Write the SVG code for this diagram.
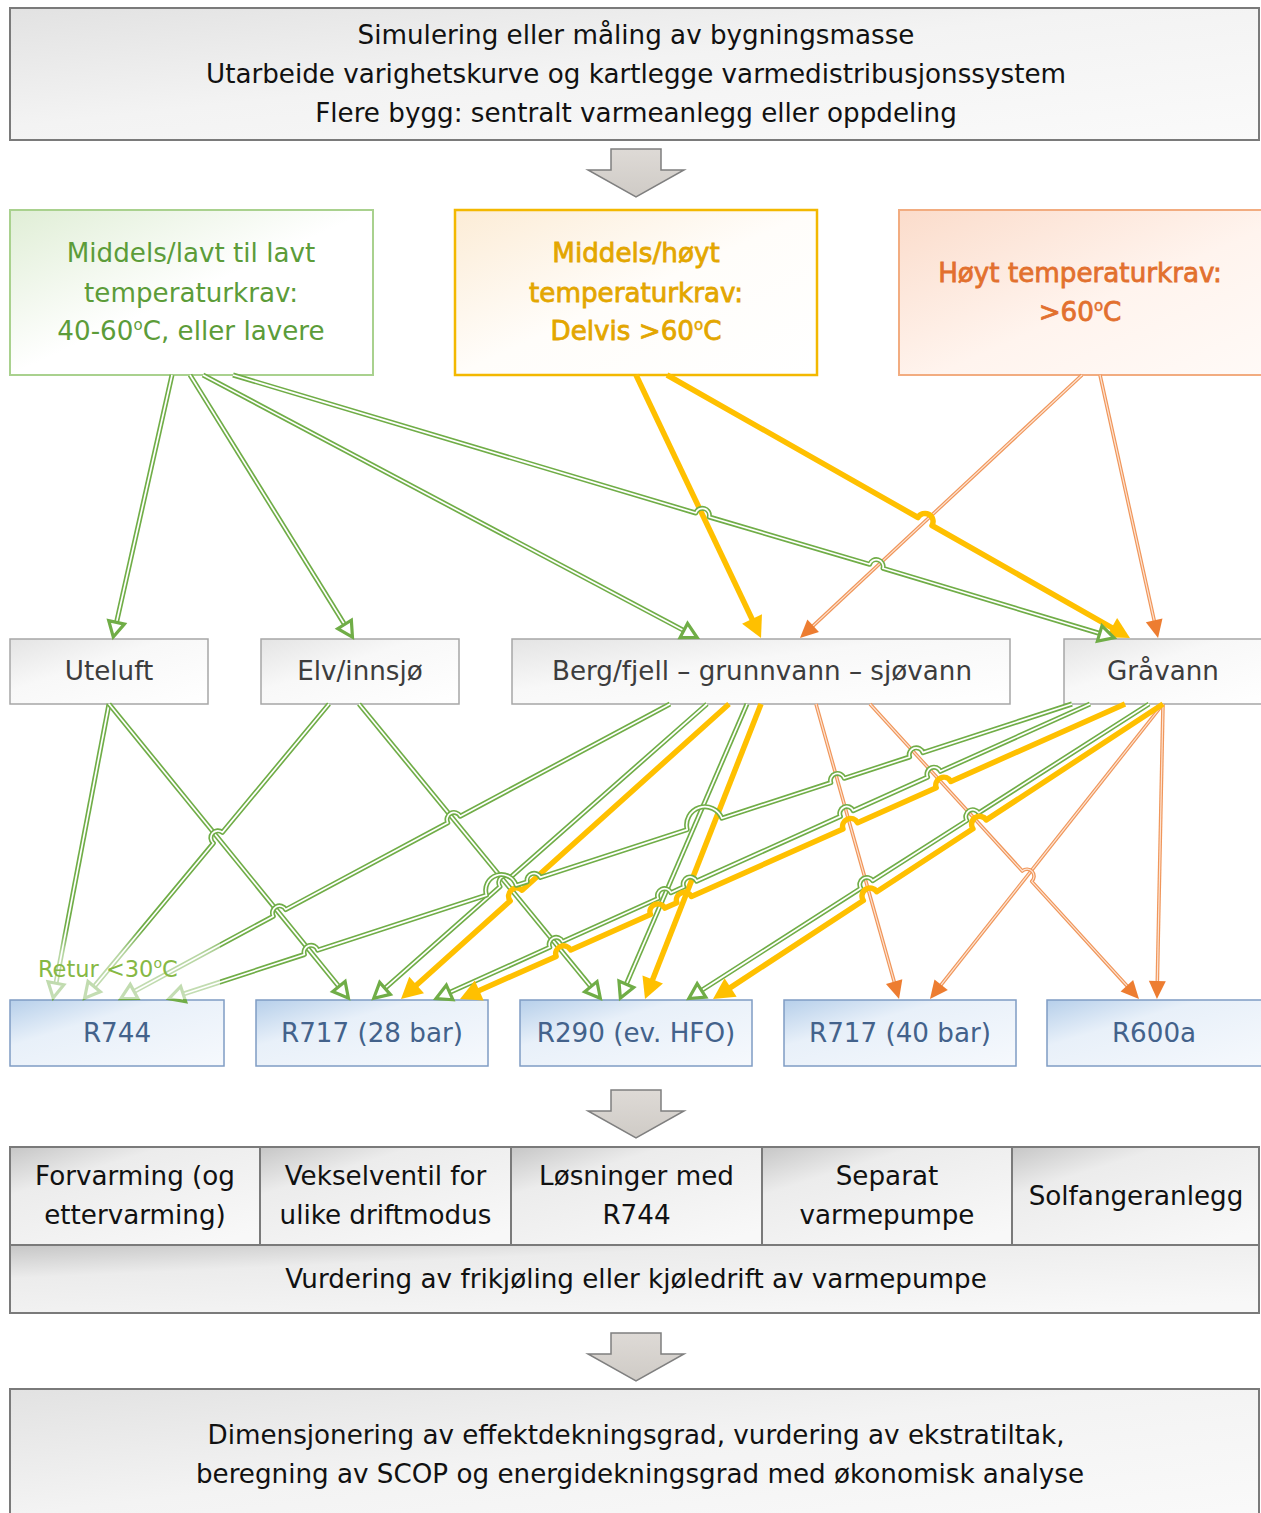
<svg xmlns="http://www.w3.org/2000/svg" width="1261" height="1513" viewBox="0 0 1261 1513">
<defs>
  <linearGradient id="fGray" x1="0" y1="0" x2="1" y2="1">
    <stop offset="0" stop-color="#e2e2e2"/><stop offset="0.45" stop-color="#f3f3f3"/><stop offset="1" stop-color="#fafafa"/>
  </linearGradient>
  <linearGradient id="fCell" x1="0" y1="0" x2="0.8" y2="1">
    <stop offset="0" stop-color="#c6c6c6"/><stop offset="0.3" stop-color="#ececec"/><stop offset="1" stop-color="#f8f8f8"/>
  </linearGradient>
  <linearGradient id="fGreen" x1="0" y1="0" x2="1" y2="1">
    <stop offset="0" stop-color="#e0eed6"/><stop offset="0.5" stop-color="#ffffff"/><stop offset="1" stop-color="#ffffff"/>
  </linearGradient>
  <linearGradient id="fYellow" x1="0" y1="0" x2="1" y2="1">
    <stop offset="0" stop-color="#fcecd6"/><stop offset="0.5" stop-color="#fffdfa"/><stop offset="1" stop-color="#ffffff"/>
  </linearGradient>
  <linearGradient id="fOrange" x1="0" y1="0" x2="1" y2="1">
    <stop offset="0" stop-color="#fbdccb"/><stop offset="0.55" stop-color="#fff4ee"/><stop offset="1" stop-color="#fffaf7"/>
  </linearGradient>
  <linearGradient id="fSrc" x1="0" y1="0" x2="1" y2="1">
    <stop offset="0" stop-color="#e4e4e4"/><stop offset="0.4" stop-color="#f8f8f8"/><stop offset="1" stop-color="#ffffff"/>
  </linearGradient>
  <linearGradient id="fRef" x1="0" y1="0" x2="1" y2="1">
    <stop offset="0" stop-color="#b6cfea"/><stop offset="0.35" stop-color="#e8f0f9"/><stop offset="1" stop-color="#f6f9fd"/>
  </linearGradient>
  <linearGradient id="fBlk" x1="0" y1="0" x2="0" y2="1">
    <stop offset="0" stop-color="#dedad6"/><stop offset="1" stop-color="#cfcbc6"/>
  </linearGradient>
  <linearGradient id="fFade" x1="0" y1="0" x2="0" y2="1">
    <stop offset="0" stop-color="#ffffff" stop-opacity="0"/><stop offset="0.35" stop-color="#ffffff" stop-opacity="0.5"/><stop offset="1" stop-color="#ffffff" stop-opacity="0.6"/>
  </linearGradient>

  <marker id="ag" markerUnits="userSpaceOnUse" markerWidth="24" markerHeight="24" refX="2" orient="auto" overflow="visible">
    <path d="M0,-8 L15,0 L0,8 Z" fill="#ffffff" stroke="#70ad47" stroke-width="3.2"/>
  </marker>
  <marker id="ay" markerUnits="userSpaceOnUse" markerWidth="24" markerHeight="24" refX="3" orient="auto" overflow="visible">
    <path d="M0,-11 L21,0 L0,11 Z" fill="#ffc000"/>
  </marker>
  <marker id="ao" markerUnits="userSpaceOnUse" markerWidth="24" markerHeight="24" refX="2" orient="auto" overflow="visible">
    <path d="M0,-8.5 L18,0 L0,8.5 Z" fill="#ed7d31"/>
  </marker>

  <!-- block arrow between stages -->
  <path id="blk" d="M-25,0 H25 V21 H48 L0,48 L-48,21 H-25 Z"/>

  <!-- requirement -> source -->
  <path id="c1" d="M172,375 L116.1,624.3"/>
  <path id="c2" d="M190,375 L345.6,626.1"/>
  <path id="c3" d="M203,375 L685.6,631.4"/>
  <path id="c4" d="M233,375 L695.8,513.0 A7,7 0 0 1 709.2,517.0 L869.6,564.3 A7,7 0 0 1 883.0,568.3 L1101.6,634.0"/>
  <path id="c5" d="M636,375 L753.3,621.7"/>
  <path id="c6" d="M667,375 L918.0,517.5 A8,8 0 0 1 932.0,525.5 L1114.3,629.1"/>
  <path id="c7" d="M1082,375 L811.7,627.1"/>
  <path id="c8" d="M1100,375 L1154.6,622.4"/>

  <!-- source -> refrigerant -->
  <path id="d1" d="M109,704 L55.6,985.2"/>
  <path id="d2" d="M109,704 L340.2,988.1"/>
  <path id="d3" d="M359,704 L592.1,988.2"/>
  <path id="d4" d="M747,704 L625.5,986.1"/>
  <path id="d5" d="M761,704 L651.6,982.2"/>
  <path id="d6" d="M816,704 L894.7,983.6"/>
  <path id="d7" d="M1163,704 L939.9,986.4"/>
  <path id="d8" d="M1163,704 L1157.3,983"/>
  <path id="d9" d="M329,704 L222.4,832.4 A7,7 0 0 0 213.4,843.2 L92.9,988.2"/>
  <path id="d10" d="M670,704 L460.2,816.2 A7,7 0 0 0 447.8,822.8 L285.7,909.6 A7,7 0 0 0 273.3,916.2 L132.3,992.4"/>
  <path id="d11" d="M707,704 L510.4,877.4 A7,7 0 0 0 500.0,886.6 L383.5,989.7"/>
  <path id="d12" d="M729,704 L522.0,890.2 A8,8 0 0 0 510.2,900.9 L414.4,987.0"/>
  <path id="d13" d="M870,704 L1022.3,871.0 A7,7 0 0 1 1031.7,881.4 L1128.2,987.2"/>
  <path id="d14" d="M1072,704 L922.9,752.6 A7,7 0 0 0 909.6,757.0 L844.2,778.3 A7,7 0 0 0 830.8,782.7 L721.9,818.2 A18.3,18.3 0 0 0 687.2,829.6 L540.4,877.4 A7,7 0 0 0 527.2,881.8 L516.2,885.3 A15.6,15.6 0 0 0 486.5,895.1 L317.7,950.1 A7,7 0 0 0 304.4,954.5 L181.3,994.7"/>
  <path id="d15" d="M1090,704 L940.4,771.3 A7,7 0 0 0 927.6,777.1 L853.2,810.6 A7,7 0 0 0 840.4,816.4 L696.6,881.1 A7,7 0 0 0 683.8,886.9 L670.9,892.7 A7,7 0 0 0 658.1,898.5 L562.6,941.5 A7,7 0 0 0 549.8,947.3 L447.8,993.3"/>
  <path id="d16" d="M1125,704 L950.8,781.4 A8,8 0 0 0 936.2,787.8 L857.6,822.7 A8,8 0 0 0 843.0,829.1 L691.4,896.4 A8,8 0 0 0 676.8,902.8 L665.0,908.1 A8,8 0 0 0 650.4,914.5 L570.7,950.0 A8,8 0 0 0 556.1,956.4 L476.5,991.7"/>
  <path id="d17" d="M1149,704 L978.7,812.9 A7,7 0 0 0 966.9,820.5 L872.7,880.7 A7,7 0 0 0 860.9,888.3 L699.8,991.5"/>
  <path id="d18" d="M1163,704 L986.3,819.9 A8,8 0 0 0 972.9,828.7 L876.7,891.7 A8,8 0 0 0 863.3,900.5 L728.1,989.1"/>
</defs>

<style>
  text { font-family: "DejaVu Sans", "Liberation Sans", sans-serif; font-size: 26.2px; text-anchor: middle; }
  .t-dark { fill: #111111; }
  .t-src { fill: #3d3d3d; }
  .t-ref { fill: #43628b; }
  .t-green { fill: #5c9c39; }
  .t-yellow { fill: #e3a600; stroke: #e3a600; stroke-width: 0.8; }
  .t-orange { fill: #e2702e; stroke: #e2702e; stroke-width: 0.8; }
  .sup { font-size: 15px; stroke-width: 0.5; }
  .box-gray { fill: url(#fGray); stroke: #7a7a7a; stroke-width: 2; }
  .box-cell { fill: url(#fCell); stroke: #7a7a7a; stroke-width: 2; }
  .box-src { fill: url(#fSrc); stroke: #a6a6a6; stroke-width: 1.5; }
  .box-ref { fill: url(#fRef); stroke: #7f9cc4; stroke-width: 1.5; }
  .blk { fill: url(#fBlk); stroke: #7f7f7f; stroke-width: 1.5; }
  .go { fill: none; stroke: #70ad47; stroke-width: 5; stroke-linejoin: round; }
  .gi { fill: none; stroke: #ffffff; stroke-width: 1.7; stroke-linejoin: round; marker-end: url(#ag); }
  .yl { fill: none; stroke: #ffc000; stroke-width: 5.5; stroke-linejoin: round; marker-end: url(#ay); }
  .oo { fill: none; stroke: #f0965a; stroke-width: 3.6; stroke-linejoin: round; }
  .oi { fill: none; stroke: #fde3d2; stroke-width: 1.2; stroke-linejoin: round; marker-end: url(#ao); }
</style>

<rect width="1261" height="1513" fill="#ffffff"/>

<!-- stage 1 -->
<g id="n-analyse">
  <rect class="box-gray" x="10" y="8" width="1249" height="132"/>
  <text class="t-dark" x="636" y="44">Simulering eller måling av bygningsmasse</text>
  <text class="t-dark" x="636" y="83">Utarbeide varighetskurve og kartlegge varmedistribusjonssystem</text>
  <text class="t-dark" x="636" y="122">Flere bygg: sentralt varmeanlegg eller oppdeling</text>
</g>

<!-- temperature requirements -->
<g id="n-krav-lav">
  <rect x="10" y="210" width="363" height="165" fill="url(#fGreen)" stroke="#a9d18e" stroke-width="2"/>
  <text class="t-green" x="191" y="262">Middels/lavt til lavt</text>
  <text class="t-green" x="191" y="302">temperaturkrav:</text>
  <text class="t-green" x="191" y="340">40-60<tspan class="sup" dy="-10">o</tspan><tspan dy="10">C, eller lavere</tspan></text>
</g>
<g id="n-krav-middels">
  <rect x="455" y="210" width="362" height="165" fill="url(#fYellow)" stroke="#f3b800" stroke-width="2.5"/>
  <text class="t-yellow" x="636" y="262">Middels/høyt</text>
  <text class="t-yellow" x="636" y="302">temperaturkrav:</text>
  <text class="t-yellow" x="636" y="340">Delvis &gt;60<tspan class="sup" dy="-10">o</tspan><tspan dy="10">C</tspan></text>
</g>
<g id="n-krav-hoy">
  <rect x="899" y="210" width="370" height="165" fill="url(#fOrange)" stroke="#f2ac80" stroke-width="2"/>
  <text class="t-orange" x="1080" y="282">Høyt temperaturkrav:</text>
  <text class="t-orange" x="1080" y="321">&gt;60<tspan class="sup" dy="-10">o</tspan><tspan dy="10">C</tspan></text>
</g>

<!-- heat sources -->
<g id="n-uteluft">
  <rect class="box-src" x="10" y="639" width="198" height="65"/>
  <text class="t-src" x="109" y="680">Uteluft</text>
</g>
<g id="n-elv">
  <rect class="box-src" x="261" y="639" width="198" height="65"/>
  <text class="t-src" x="360" y="680">Elv/innsjø</text>
</g>
<g id="n-berg">
  <rect class="box-src" x="512" y="639" width="498" height="65"/>
  <text class="t-src" x="762" y="680">Berg/fjell – grunnvann – sjøvann</text>
</g>
<g id="n-gravann">
  <rect class="box-src" x="1064" y="639" width="205" height="65"/>
  <text class="t-src" x="1163" y="680">Gråvann</text>
</g>

<!-- refrigerants -->
<g id="n-r744">
  <rect class="box-ref" x="10" y="1000" width="214" height="66"/>
  <text class="t-ref" x="117" y="1042">R744</text>
</g>
<g id="n-r717-28">
  <rect class="box-ref" x="256" y="1000" width="232" height="66"/>
  <text class="t-ref" x="372" y="1042">R717 (28 bar)</text>
</g>
<g id="n-r290">
  <rect class="box-ref" x="520" y="1000" width="232" height="66"/>
  <text class="t-ref" x="636" y="1042">R290 (ev. HFO)</text>
</g>
<g id="n-r717-40">
  <rect class="box-ref" x="784" y="1000" width="232" height="66"/>
  <text class="t-ref" x="900" y="1042">R717 (40 bar)</text>
</g>
<g id="n-r600a">
  <rect class="box-ref" x="1047" y="1000" width="222" height="66"/>
  <text class="t-ref" x="1154" y="1042">R600a</text>
</g>

<!-- additional measures -->
<g id="n-forvarming">
  <rect class="box-cell" x="10" y="1147" width="250" height="98"/>
  <text class="t-dark" x="135" y="1185">Forvarming (og</text>
  <text class="t-dark" x="135" y="1224">ettervarming)</text>
</g>
<g id="n-vekselventil">
  <rect class="box-cell" x="260" y="1147" width="251" height="98"/>
  <text class="t-dark" x="385.5" y="1185">Vekselventil for</text>
  <text class="t-dark" x="385.5" y="1224">ulike driftmodus</text>
</g>
<g id="n-losninger">
  <rect class="box-cell" x="511" y="1147" width="251" height="98"/>
  <text class="t-dark" x="636.5" y="1185">Løsninger med</text>
  <text class="t-dark" x="636.5" y="1224">R744</text>
</g>
<g id="n-separat">
  <rect class="box-cell" x="762" y="1147" width="250" height="98"/>
  <text class="t-dark" x="887" y="1185">Separat</text>
  <text class="t-dark" x="887" y="1224">varmepumpe</text>
</g>
<g id="n-solfanger">
  <rect class="box-cell" x="1012" y="1147" width="247" height="98"/>
  <text class="t-dark" x="1136" y="1205">Solfangeranlegg</text>
</g>
<g id="n-frikjoling">
  <rect class="box-cell" x="10" y="1245" width="1249" height="68"/>
  <text class="t-dark" x="636" y="1288">Vurdering av frikjøling eller kjøledrift av varmepumpe</text>
</g>

<!-- final stage -->
<g id="n-dimensjonering">
  <rect class="box-gray" x="10" y="1389" width="1249" height="140"/>
  <text class="t-dark" x="636" y="1444">Dimensjonering av effektdekningsgrad, vurdering av ekstratiltak,</text>
  <text class="t-dark" x="640" y="1483">beregning av SCOP og energidekningsgrad med økonomisk analyse</text>
</g>

<!-- stage arrows -->
<g id="stage-arrows">
  <use href="#blk" class="blk" x="636" y="149"/>
  <use href="#blk" class="blk" x="636" y="1090"/>
  <use href="#blk" class="blk" x="636" y="1333"/>
</g>

<!-- connectors: green = double line, yellow = thick, orange = thin double -->
<g id="connectors">
  <use href="#c1" class="go"/><use href="#c1" class="gi"/>
  <use href="#c2" class="go"/><use href="#c2" class="gi"/>
  <use href="#c3" class="go"/><use href="#c3" class="gi"/>
  <use href="#c5" class="yl"/>
  <use href="#c7" class="oo"/><use href="#c7" class="oi"/>
  <use href="#c8" class="oo"/><use href="#c8" class="oi"/>
  <use href="#c6" class="yl"/>
  <use href="#c4" class="go"/><use href="#c4" class="gi"/>

  <use href="#d1" class="go"/><use href="#d1" class="gi"/>
  <use href="#d2" class="go"/><use href="#d2" class="gi"/>
  <use href="#d3" class="go"/><use href="#d3" class="gi"/>
  <use href="#d4" class="go"/><use href="#d4" class="gi"/>
  <use href="#d5" class="yl"/>
  <use href="#d6" class="oo"/><use href="#d6" class="oi"/>
  <use href="#d7" class="oo"/><use href="#d7" class="oi"/>
  <use href="#d8" class="oo"/><use href="#d8" class="oi"/>
  <use href="#d13" class="oo"/><use href="#d13" class="oi"/>
  <use href="#d9" class="go"/><use href="#d9" class="gi"/>
  <use href="#d10" class="go"/><use href="#d10" class="gi"/>
  <use href="#d11" class="go"/><use href="#d11" class="gi"/>
  <use href="#d12" class="yl"/>
  <use href="#d14" class="go"/><use href="#d14" class="gi"/>
  <use href="#d15" class="go"/><use href="#d15" class="gi"/>
  <use href="#d16" class="yl"/>
  <use href="#d17" class="go"/><use href="#d17" class="gi"/>
  <use href="#d18" class="yl"/>
</g>

<!-- return-temperature note over the R744 inlets -->
<g id="retur-note">
  <rect x="26" y="930" width="194" height="69" fill="url(#fFade)"/>
  <text x="38" y="977" style="text-anchor:start; font-size:22.5px; fill:#86b844">Retur &lt;30<tspan style="font-size:14px" dy="-9">o</tspan><tspan dy="9">C</tspan></text>
</g>
</svg>
